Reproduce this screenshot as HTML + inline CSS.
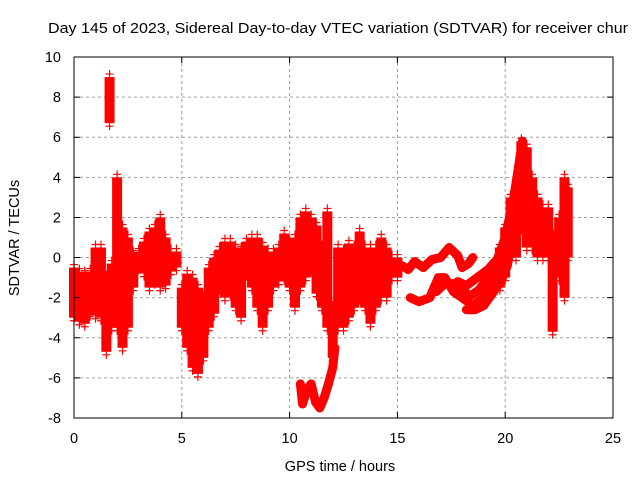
<!DOCTYPE html>
<html><head><meta charset="utf-8"><style>
html,body{margin:0;padding:0;background:#fff;}
svg{display:block;font-family:"Liberation Sans",sans-serif;}
</style></head><body>
<svg id="chart" width="640" height="480" viewBox="0 0 640 480">
<text x="48" y="33" font-size="15" textLength="580" lengthAdjust="spacingAndGlyphs" fill="#000">Day 145 of 2023, Sidereal Day-to-day VTEC variation (SDTVAR) for receiver chur</text>
<text x="340" y="471" font-size="14.5" text-anchor="middle">GPS time / hours</text>
<text transform="translate(19,238) rotate(-90)" font-size="14.5" text-anchor="middle">SDTVAR / TECUs</text>
<g id="grid"></g><g id="marks"></g><g id="axes"></g>
</svg>
<script>
const xTicks=[0,5,10,15,20,25];
const yTicks=[-8,-6,-4,-2,0,2,4,6,8,10];
// range-band data: time (h), low, high (TECU)
const bandT=[0,0.25,0.5,0.75,1.0,1.25,1.5,1.65,1.75,2.0,2.25,2.5,2.75,3.0,3.25,3.5,3.75,4.0,4.25,4.5,4.75,5.0,5.25,5.5,5.75,6.0,6.25,6.5,6.75,7.0,7.25,7.5,7.75,8.0,8.25,8.5,8.75,9.0,9.25,9.5,9.75,10.0,10.25,10.5,10.75,11.0,11.25,11.5,11.75,12.0,12.25,12.5,12.75,13.0,13.25,13.5,13.75,14.0,14.25,14.5,14.75,15.0,19.75,20.0,20.25,20.5,20.75,21.0,21.25,21.5,21.75,22.0,22.2,22.5,22.75,22.9];
const bandLow=[-3.0,-3.2,-3.3,-2.8,-2.9,-3.0,-4.7,6.7,-3.5,-3.5,-4.5,-3.5,-1.5,-0.5,-0.8,-1.5,-1.2,-1.5,-1.4,-0.7,-0.5,-3.5,-4.5,-5.5,-5.8,-5.0,-3.5,-2.8,-1.5,-2.0,-1.8,-2.5,-3.0,-0.8,-1.5,-2.5,-3.5,-2.5,-1.5,-1.2,-1.0,-1.5,-2.5,-1.5,-1.0,-0.6,-1.8,-2.5,-3.5,-5.0,-3.5,-3.5,-3.0,-2.5,-2.0,-2.5,-3.3,-2.5,-2.0,-2.0,-1.0,-1.0,-1.5,-1.0,0.0,0.0,1.5,0.5,0.5,0.0,0.0,0.0,-3.7,-1.0,-2.0,0.0];
const bandHigh=[-0.5,-0.7,-0.8,-0.7,0.5,0.5,-1.0,9.0,-0.3,4.0,1.5,1.0,0.2,0.3,0.8,1.3,1.5,2.0,1.0,0.3,0.3,-1.5,-0.8,-1.0,-1.5,-2.0,-0.5,0.0,0.4,0.8,0.8,0.5,0.4,0.8,1.0,1.0,0.6,0.3,0.3,0.5,1.2,0.8,1.0,2.0,2.3,2.0,1.6,0.5,2.3,-2.5,0.5,0.3,0.7,0.5,1.3,0.5,0.5,0.5,1.0,0.5,0.0,0.0,0.5,1.5,3.0,3.5,5.8,5.5,4.0,3.0,2.5,2.5,1.0,2.0,4.0,3.5];
// tracks
const trackAT=[15.2,15.5,15.8,16.2,16.6,17.0,17.4,17.8,18.0,18.3,18.5];
const trackAV=[-0.4,-0.6,-0.2,-0.5,-0.1,0.0,0.5,0.1,-0.5,-0.3,0.0];
const trackBT=[15.6,16.0,16.5,16.9,17.2,17.6,18.0,18.5,19.0,19.5,20.0,20.4,20.8,21.0,21.3,21.6,22.0,22.3];
const trackBV=[-2.0,-2.2,-2.0,-1.0,-1.0,-1.7,-2.0,-2.4,-2.0,-1.0,0.5,2.5,5.0,4.5,2.0,2.3,1.5,0.5];
const trackCT=[16.8,17.2,17.6,18.0,18.4,18.8,19.2,19.6,20.0,20.4,20.8,21.1,21.4,21.8,22.2,22.5];
const trackCV=[-1.7,-1.3,-1.3,-1.7,-1.9,-1.6,-1.0,-0.2,1.0,3.0,5.8,3.5,1.0,0.5,0.3,0.0];
const trackDT=[18.2,18.6,19.0,19.4,19.8,20.1,20.4,20.7,21.0,21.5,22.0];
const trackDV=[-2.6,-2.6,-2.4,-1.8,-1.2,-0.4,1.5,3.0,2.0,1.8,1.0];
const trackET=[17.8,18.2,18.7,19.2,19.7,20.0,20.2];
const trackEV=[-1.2,-1.4,-1.0,-0.6,0.0,0.6,1.2];
const trackFT=[10.5,10.6,10.8,11.0,11.2,11.4,11.6,11.8,12.0,12.1];
const trackFV=[-6.3,-7.3,-6.6,-6.3,-7.2,-7.5,-7.0,-6.3,-5.5,-4.5];

const X0=74,X1=613,Y0=418,Y1=57;
const xs=t=>X0+(t-0)/25*(X1-X0);
const ys=v=>Y0-(v+8)/18*(Y0-Y1);
const NS='http://www.w3.org/2000/svg';
function mk(tag,attrs,parent){const e=document.createElementNS(NS,tag);for(const k in attrs)e.setAttribute(k,attrs[k]);parent.appendChild(e);return e;}
const grid=document.getElementById('grid'),marks=document.getElementById('marks'),axes=document.getElementById('axes');
xTicks.forEach(t=>{
  if(t>0&&t<25){const g=mk('line',{x1:xs(t),x2:xs(t),y1:Y1,y2:Y0,stroke:'#a0a0a0','stroke-dasharray':'3,3'},grid);
  
  }
  const tk=mk('path',{d:`M${xs(t)},${Y0}v-6M${xs(t)},${Y1}v6`,stroke:'#000'},axes);
  
  
  const l=mk('text',{x:xs(t),y:Y0+25,'font-size':14.5,'text-anchor':'middle'},axes);l.textContent=t;
  
  
});
yTicks.forEach(v=>{
  if(v>-8&&v<10){const g=mk('line',{x1:X0,x2:X1,y1:ys(v),y2:ys(v),stroke:'#a0a0a0','stroke-dasharray':'3,3'},grid);
  
  }
  const tk=mk('path',{d:`M${X0},${ys(v)}h6M${X1},${ys(v)}h-6`,stroke:'#000'},axes);
  
  
  const l=mk('text',{x:X0-13,y:ys(v)+5,'font-size':14.5,'text-anchor':'end'},axes);l.textContent=v;
  
  
});
const fr=mk('rect',{x:X0,y:Y1,width:X1-X0,height:Y0-Y1,fill:'none',stroke:'#000'},axes);


function plus(x,y,name){const p=mk('path',{d:`M${x-4},${y}h8M${x},${y-4}v8`,stroke:'#f00','stroke-width':1.2},marks);
  
  }
bandT.forEach((t,i)=>{
  const x=xs(t),yl=ys(bandLow[i]),yh=ys(bandHigh[i]);
  const r=mk('rect',{x:x-5,y:yh,width:10,height:Math.max(1,yl-yh),fill:'#f00'},marks);
  
  
  plus(x,yl+3,'data-point');plus(x,yh-3,'data-point');
});
[[trackAT,trackAV],[trackBT,trackBV],[trackCT,trackCV],[trackDT,trackDV],[trackET,trackEV],[trackFT,trackFV]].forEach(([T,V])=>{
  const pts=T.map((t,i)=>xs(t)+','+ys(V[i])).join(' ');
  const pl=mk('polyline',{points:pts,fill:'none',stroke:'#f00','stroke-width':9,'stroke-linejoin':'round','stroke-linecap':'round'},marks);
  
  
  T.forEach((t,i)=>plus(xs(t),ys(V[i]),'data-point'));
});
</script>
</body></html>
